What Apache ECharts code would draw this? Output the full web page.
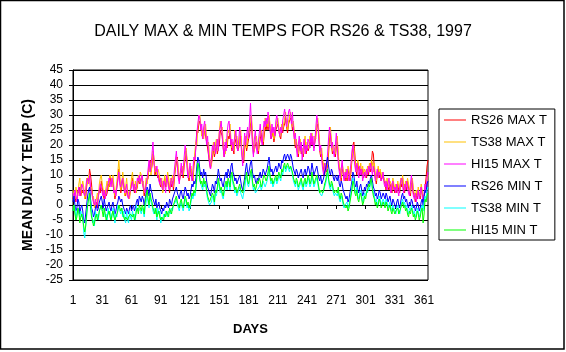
<!DOCTYPE html>
<html>
<head>
<meta charset="utf-8">
<script src="https://cdn.jsdelivr.net/npm/echarts@6/dist/echarts.min.js"></script>
<style>
html,body{margin:0;padding:0;background:#fff;}
#c{width:566px;height:352px;}
</style>
</head>
<body>
<div id="c"></div>
<script>
var days = [];
for (var d = 1; d <= 365; d++) days.push(String(d));

var seriesNames = ['RS26 MAX T','TS38 MAX T','HI15 MAX T','RS26 MIN T','TS38 MIN T','HI15 MIN T'];
var seriesColors = ['#ff0000','#ffc000','#ff00ff','#0000ff','#00ffff','#00ff00'];
var yTicks = {min: -25, max: 45, step: 5};

var rs26Max = [
2,4,3,1,2,5,4,6,3,5, 4,5,3,2,6,9,8,12,10,7, 3,1,0,-1,1,-1,3,5,4,8,
6,3,2,5,3,4,7,6,10,7, 7,8,5,2,4,6,9,12,8,4, 6,9,7,4,3,5,4,2,3,5,
7,9,6,4,6,5,6,9,7,8, 9,8,6,3,5,7,8,9,13,15, 11,13,17,15,10,11,12,9,10,7,
6,8,5,5,9,6,8,9,7,4, 8,6,8,5,9,12,14,16,10,8, 8,11,12,9,13,15,18,14,10,8,
11,12,9,8,13,15,20,25,24,27, 28,26,24,22,23,25,25,21,19,19, 14,12,12,16,19,16,18,20,17,19,
20,25,24,23,19,16,16,20,19,23, 22,24,20,18,19,17,22,21,21,18, 18,21,23,18,15,14,19,21,18,20,
22,23,27,28,22,17,17,20,21,19, 17,20,22,24,21,20,23,26,25,27, 25,28,26,22,22,24,21,23,25,26,
27,25,23,22,25,24,26,27,29,26, 24,27,28,29,28,25,27,22,19,21, 18,16,19,20,17,18,16,19,21,17,
19,18,19,21,20,22,20,19,21,21, 26,27,23,18,16,17,14,12,10,12, 11,13,17,22,24,20,17,18,17,16,
19,21,16,12,11,8,12,11,9,8, 11,8,12,10,8,11,15,20,21,17, 12,10,14,12,10,12,10,12,9,11,
11,9,12,10,13,11,14,18,17,12, 9,7,10,12,9,11,8,10,9,8, 7,5,8,6,5,7,6,4,8,6,
4,6,4,7,5,4,8,6,9,5, 4,7,5,8,6,4,3,7,8,4, 3,1,4,2,5,3,2,6,4,2,
1,6,9,13,15
];
var ts38Max = [
5,3,2,6,4,3,7,9,4,6, 8,6,2,4,9,7,10,8,5,6, 2,3,-1,0,2,4,2,7,9,10,
7,5,3,4,6,8,5,7,10,9, 6,10,6,3,5,8,11,15,10,5, 7,11,8,3,6,9,5,4,2,6,
9,11,7,5,8,4,7,10,8,11, 10,7,8,4,6,9,7,10,12,14, 10,14,18,16,11,13,10,12,11,9,
7,9,4,6,10,8,6,11,9,5, 9,7,10,6,10,13,16,15,11,9, 9,12,13,10,14,16,19,15,11,9,
12,13,10,9,14,18,21,20,26,29, 30,27,23,25,22,26,27,22,20,21, 16,14,13,18,21,17,20,22,18,21,
21,28,25,26,21,18,17,22,20,25, 24,27,22,19,21,18,25,22,23,20, 19,23,25,19,16,15,21,23,19,22,
25,24,29,30,24,19,18,22,23,20, 18,22,24,25,23,21,25,29,27,28, 26,30,27,24,23,26,22,25,26,28,
29,26,24,23,27,25,27,29,31,27, 25,28,29,31,29,26,28,23,20,22, 19,17,21,22,18,19,17,21,23,18,
21,19,20,23,21,24,21,20,23,22, 28,29,25,20,17,19,15,13,11,14, 12,14,19,24,26,21,18,20,19,17,
21,23,17,13,12,9,14,12,10,9, 12,9,13,11,9,12,16,18,19,15, 13,11,15,13,11,14,11,13,10,12,
12,10,13,11,14,12,15,14,11,14, 10,8,11,13,10,12,9,11,10,9, 8,6,9,7,6,8,7,5,9,7,
5,7,5,8,6,5,9,7,10,6, 5,8,6,9,7,5,4,8,9,5, 4,2,5,3,6,4,3,7,5,3,
2,7,6,8,10
];
var hi15Max = [
4,2,5,3,1,4,6,3,5,7, 6,4,3,5,8,9,7,10,6,4, 3,1,0,2,-1,1,3,5,7,6,
4,3,5,2,4,6,7,9,8,6, 9,7,4,5,3,6,8,11,7,6, 8,9,6,4,5,7,3,2,4,5,
6,8,5,7,4,6,9,8,10,7, 9,10,6,5,4,7,9,12,15,11, 13,17,21,14,12,11,13,10,8,7,
9,6,5,8,7,4,10,8,6,5, 7,9,6,8,12,15,18,13,9,7, 11,14,10,12,16,20,17,12,9,11,
14,10,8,12,16,15,19,24,27,30, 29,25,27,22,26,28,24,20,23,17, 14,12,16,20,18,21,17,19,22,18,
24,26,28,23,19,16,21,18,24,27, 28,24,20,22,18,21,23,25,20,18, 22,26,21,17,13,19,24,20,23,26,
22,28,34,27,20,16,22,25,19,17, 21,24,27,22,20,25,28,26,29,27, 31,28,25,22,27,24,26,23,28,30,
27,25,23,26,24,28,30,32,29,26, 28,31,32,30,27,31,25,22,24,19, 16,20,23,18,21,15,19,22,17,20,
18,22,21,19,24,20,23,18,21,26, 30,27,22,18,20,15,12,10,14,11, 13,17,22,26,23,19,21,18,16,20,
24,19,14,11,9,12,15,10,8,11, 9,12,10,8,11,14,18,20,16,13, 11,14,12,9,13,10,12,8,10,11,
9,12,10,13,11,14,12,10,13,11, 8,10,12,9,11,10,8,9,11,7, 6,8,5,7,9,6,4,7,8,5,
6,4,7,5,3,6,8,9,6,4, 7,5,8,6,4,3,7,10,6,3, 2,4,1,3,5,2,4,6,3,1,
4,7,5,9,11
];
var rs26Min = [
1,3,0,-2,-1,2,1,-3,-1,0, -2,-5,-6,-3,0,3,5,6,2,-1, -2,-4,-3,-1,0,-2,-1,1,2,3,
1,-1,2,0,-2,-1,0,1,-1,-2, 0,1,-1,-3,-2,0,1,3,2,1, 2,0,-1,-2,-3,-1,-2,-3,-1,0,
-2,-1,0,-2,-1,1,2,0,3,2, 1,3,2,0,2,4,6,5,3,7, 5,4,2,1,0,2,-1,0,1,-1,
-2,-3,-1,-2,0,-1,1,0,-1,2, 1,0,2,3,4,5,6,4,3,2, 4,5,3,2,4,6,5,3,4,2,
3,5,7,6,8,7,9,13,16,15, 12,10,11,9,12,10,11,8,6,5, 4,3,5,7,6,4,8,7,9,12,
10,8,9,7,6,8,10,11,9,12, 11,9,13,14,11,10,8,9,7,8, 9,10,8,6,5,7,9,12,14,11,
10,12,14,15,11,9,10,8,7,9, 8,10,11,9,10,12,11,10,11,12, 14,16,13,11,12,10,11,12,13,11,
12,14,13,12,15,14,16,17,15,16, 17,16,15,17,16,14,12,11,10,12, 11,9,10,11,12,10,9,11,12,10,
11,13,12,10,11,14,12,10,11,12, 13,11,9,8,10,7,8,9,11,12, 14,16,13,11,10,12,11,9,8,10,
9,8,10,7,6,8,7,5,4,3, 2,3,1,2,4,6,8,11,10,7, 6,8,5,4,6,7,5,3,4,6,
5,7,6,8,7,9,10,8,6,5, 3,4,2,3,5,4,2,3,4,3, 2,4,3,1,2,3,1,0,2,1,
0,-1,1,2,0,-1,1,3,4,2, 3,1,2,0,-1,1,0,2,1,-1, 0,-2,-1,1,0,-2,-1,1,2,0,
3,5,4,7,8
];
var ts38Min = [
-2,0,-1,-5,-2,-1,-3,-4,-2,-4, -3,-9,-11,-7,-4,0,2,3,1,-2, -6,-5,-7,-2,-4,-3,-5,-2,-1,0,
-2,-2,-1,-4,-3,-5,-1,-3,-2,-5, -4,-1,-2,-6,-3,-4,0,0,-2,-3, -1,-4,-2,-5,-6,-2,-5,-6,-2,-4,
-5,-2,-4,-3,-5,0,-2,-1,-1,-2, -3,-1,-2,-4,-1,1,3,1,-1,3, 1,0,-2,-3,-1,-2,-5,-1,-3,-2,
-6,-4,-5,-3,-4,-2,-3,-4,-2,-2, -3,-1,-2,0,0,1,2,0,-1,-2, 0,1,-1,-2,0,2,1,-1,0,-2,
-1,1,3,2,4,3,5,9,14,12, 8,7,7,5,8,6,7,4,2,1, 0,0,1,3,2,0,4,3,5,8,
6,4,5,3,2,4,6,7,5,8, 7,5,9,10,7,6,4,5,3,4, 5,6,4,3,2,4,5,8,10,7,
6,8,10,11,7,5,6,4,4,5, 5,6,7,5,6,8,7,6,7,8, 10,12,9,7,8,6,7,8,9,7,
8,10,9,8,11,10,12,13,11,12, 13,12,11,13,12,10,8,7,6,8, 7,5,6,7,8,6,5,7,8,6,
7,9,8,6,7,10,8,6,7,8, 9,7,5,4,4,3,4,4,6,7, 9,11,8,6,5,7,6,4,3,4,
4,3,5,2,1,3,2,0,-1,0, 0,1,-1,0,2,4,6,9,8,5, 4,6,3,2,4,5,3,1,2,4,
3,5,4,6,5,7,8,6,4,3, 1,2,0,1,3,2,0,1,2,1, 0,2,1,-1,0,1,-1,-2,0,-1,
-2,-3,-1,0,-2,-3,-1,1,2,0, 1,-1,0,-2,-3,-1,-2,0,-1,-3, -2,-4,-3,-1,-2,-4,-3,-1,0,-2,
1,3,2,5,6
];
var hi15Min = [
-2,0,-3,-5,-4,-1,-2,-6,-4,-3, -5,-7,-9,-7,-3,0,2,4,-1,-4, -5,-7,-6,-4,-3,-5,-4,-2,-1,0,
-2,-4,-1,-3,-5,-4,-3,-2,-4,-5, -3,-2,-4,-5,-5,-3,-2,0,-1,-2, -1,-3,-4,-5,-4,-4,-5,-4,-4,-3,
-3,-4,-3,-5,-4,-2,-1,-3,0,-1, -2,0,-1,-3,1,3,5,2,0,4, 2,1,-1,-2,-3,-1,-4,-3,-2,-4,
-5,-4,-4,-5,-3,-4,-2,-3,-4,-1, -2,-3,-1,0,1,2,3,1,0,-1, 1,2,0,-1,1,3,2,0,1,-1,
0,2,4,3,5,4,6,10,14,13, 9,7,8,6,9,7,8,5,3,2, 1,2,2,4,3,1,5,4,6,9,
7,5,6,4,3,5,7,8,6,9, 8,6,10,11,8,7,5,6,4,5, 6,7,5,5,4,6,8,9,11,8,
7,9,11,12,8,6,7,5,6,8, 7,9,8,6,7,9,10,9,8,9, 11,13,10,8,9,7,8,9,10,8,
9,11,10,9,12,11,13,14,12,13, 14,13,12,13,12,11,9,8,7,9, 8,6,7,8,9,7,6,8,9,7,
8,10,9,7,8,11,9,7,8,9, 10,8,6,4,5,5,4,5,7,8, 10,12,9,7,6,8,7,5,4,5,
5,4,6,3,2,4,3,1,0,0, -1,0,-2,-1,1,3,5,8,7,4, 3,5,2,1,3,4,2,0,1,3,
2,4,5,7,6,8,9,5,3,2, 0,1,-1,0,2,1,-1,0,1,0, -1,1,0,-2,-1,0,-2,-3,-1,-2,
-3,-2,-2,-1,-3,-2,-2,0,1,-1, 0,-2,-1,-3,-4,-2,-3,-1,-2,-4, -3,-5,-4,-2,-3,-5,-4,-2,-1,-6,
-3,2,1,3,4
];

var allData = [rs26Max, ts38Max, hi15Max, rs26Min, ts38Min, hi15Min];
var FONT = 'Liberation Sans, Arial, sans-serif';

var chart = echarts.init(document.getElementById('c'), null, {renderer: 'canvas'});
var series = seriesNames.map(function (n, i) {
  return {
    name: n, type: 'line', data: allData[i], symbol: 'none', showSymbol: false,
    lineStyle: {color: seriesColors[i], width: 1}, itemStyle: {color: seriesColors[i]},
    emphasis: {disabled: true}, animation: false
  };
});

chart.setOption({
  backgroundColor: '#fff',
  animation: false,
  title: {
    text: 'DAILY MAX & MIN TEMPS FOR RS26 & TS38, 1997',
    left: 'center', top: 19,
    textStyle: {fontFamily: FONT, fontSize: 16, fontWeight: 'normal', color: '#000'}
  },
  legend: {
    orient: 'vertical', left: 439, top: 109,
    icon: 'rect', itemWidth: 22, itemHeight: 1, itemGap: 8,
    padding: [4, 8, 3, 5],
    borderColor: '#000', borderWidth: 1, backgroundColor: '#fff',
    textStyle: {fontFamily: FONT, fontSize: 13, color: '#000', lineHeight: 14},
    data: seriesNames, selectedMode: false
  },
  grid: {left: 73, top: 70, width: 355, height: 210, show: true, borderColor: '#000', borderWidth: 1, containLabel: false},
  xAxis: {
    type: 'category', data: days, boundaryGap: false,
    name: 'DAYS', nameLocation: 'middle', nameGap: 43,
    nameTextStyle: {fontFamily: FONT, fontSize: 13, fontWeight: 'bold', color: '#000'},
    axisLine: {lineStyle: {color: '#000', width: 1}},
    axisTick: {show: true, interval: 29, length: 4, lineStyle: {color: '#000'}},
    axisLabel: {interval: 29, margin: 15, fontFamily: FONT, fontSize: 12, color: '#000'},
    splitLine: {show: false}
  },
  yAxis: {
    type: 'value', min: yTicks.min, max: yTicks.max, interval: yTicks.step,
    name: 'MEAN DAILY TEMP (C)', nameLocation: 'middle', nameGap: 38, nameRotate: 90,
    nameTextStyle: {fontFamily: FONT, fontSize: 14, fontWeight: 'bold', color: '#000'},
    axisLine: {show: true, lineStyle: {color: '#000', width: 1}},
    axisTick: {show: true, length: 4, lineStyle: {color: '#000'}},
    axisLabel: {margin: 10, fontFamily: FONT, fontSize: 12, color: '#000'},
    splitLine: {show: true, lineStyle: {color: '#000', width: 1}}
  },
  graphic: [{
    type: 'rect', shape: {x: 0.5, y: 0.5, width: 563.5, height: 348.5},
    style: {fill: 'none', stroke: '#000', lineWidth: 1.5}, silent: true, z: 100
  }],
  series: series
});
</script>
</body>
</html>
